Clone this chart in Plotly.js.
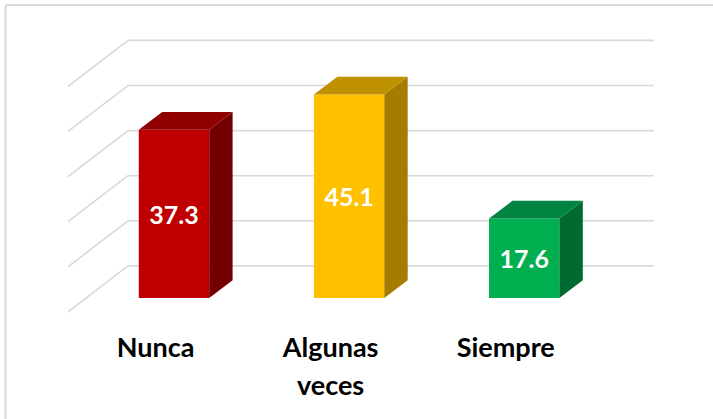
<!DOCTYPE html>
<html>
<head>
<meta charset="utf-8">
<script src="https://cdn.plot.ly/plotly-3.0.1.min.js"></script>
<style>html,body{margin:0;padding:0;background:#fff}#c{width:713px;height:419px}</style>
</head>
<body>
<div id="c"></div>
<script>
const categories = ["Nunca", "Algunas<br>veces", "Siempre"];
const values = [37.3, 45.1, 17.6];
const gridValues = [0, 10, 20, 30, 40, 50];
const frontColors = ["#C00000", "#FFC000", "#00B050"];
const topColors = ["#900000", "#BF9000", "#008442"];
const sideColors = ["#730000", "#A67C00", "#006A30"];

// plot geometry, in axis units
const W = 713, H = 419, bottomMargin = 92;
const plotH = H - bottomMargin;
const pxPerCat = 175.1, pxPerVal = 4.51, x0px = 174, y0px = 297.9;
const xr = [(0 - x0px) / pxPerCat, (W - x0px) / pxPerCat];
const yr = [(y0px - plotH) / pxPerVal, y0px / pxPerVal];
const barW = 70.4 / pxPerCat;
const dx = 23.4 / pxPerCat, dy = 17.7 / pxPerVal;
const floorBack = 7.09, floorFront = -3.1;
const wallLeft = (128 - x0px) / pxPerCat, wallRight = (654 - x0px) / pxPerCat, frontLeft = (68 - x0px) / pxPerCat;
const labelShift = -18.5 / pxPerCat;

const xs = categories.map((_, i) => i);
const traces = [];
xs.forEach((x, i) => {
  const l = x - barW / 2, r = x + barW / 2, v = values[i];
  traces.push({type: "scatter", mode: "lines", x: [r, r + dx, r + dx, r, r], y: [0, dy, v + dy, v, 0],
    fill: "toself", fillcolor: sideColors[i], line: {width: 0, color: sideColors[i]}, hoverinfo: "skip", showlegend: false});
  traces.push({type: "scatter", mode: "lines", x: [l, l + dx, r + dx, r, l], y: [v, v + dy, v + dy, v, v],
    fill: "toself", fillcolor: topColors[i], line: {width: 0, color: topColors[i]}, hoverinfo: "skip", showlegend: false});
});
traces.push({type: "bar", x: xs, y: values, width: barW, marker: {color: frontColors, line: {width: 0}},
  text: values.map(v => v.toFixed(1)), textposition: "inside", insidetextanchor: "middle", constraintext: "none",
  insidetextfont: {family: "Lato", size: 25, color: "#ffffff", weight: 700}, hoverinfo: "skip", showlegend: false});

const gridStyle = {color: "#D9D9D9", width: 1.6};
const frameStyle = {color: "#D9D9D9", width: 2};
const shapes = [];
gridValues.forEach(g => {
  const back = g + floorBack, front = g + floorFront;
  shapes.push({type: "line", xref: "x", yref: "y", layer: "below", x0: wallLeft, x1: wallRight, y0: back, y1: back, line: gridStyle});
  shapes.push({type: "line", xref: "x", yref: "y", layer: "below", x0: frontLeft, x1: wallLeft, y0: front, y1: back, line: gridStyle});
});
const frameTop = (plotH - 5) / plotH, frameBottom = (plotH - H) / plotH;
shapes.push({type: "line", xref: "paper", yref: "paper", layer: "below", x0: 5.5 / W, x1: 5.5 / W, y0: frameBottom, y1: frameTop, line: frameStyle});
shapes.push({type: "line", xref: "paper", yref: "paper", layer: "below", x0: 5.5 / W, x1: 1, y0: frameTop, y1: frameTop, line: frameStyle});

Plotly.newPlot("c", traces, {
  width: W, height: H,
  margin: {l: 0, r: 0, t: 0, b: bottomMargin, pad: 0},
  paper_bgcolor: "#ffffff", plot_bgcolor: "rgba(0,0,0,0)",
  showlegend: false, shapes: shapes,
  xaxis: {range: xr, showgrid: false, zeroline: false, showline: false, ticks: "",
    tickmode: "array", tickvals: xs.map(x => x + labelShift),
    ticktext: categories.map(c => c.split("<br>").map(s => "<span style='font-size:27px'><b>" + s + "</b></span>").join("<br>")),
    tickangle: 0, tickfont: {family: "Lato", size: 29, color: "#000000"}},
  yaxis: {range: yr, showgrid: false, zeroline: false, showline: false, showticklabels: false, ticks: ""}
}, {displayModeBar: false, staticPlot: true});
</script>
</body>
</html>
